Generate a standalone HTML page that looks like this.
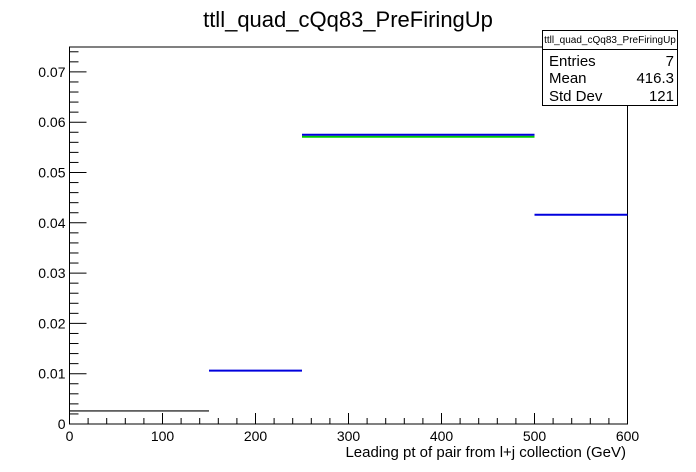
<!DOCTYPE html>
<html><head><meta charset="utf-8"><style>
body{margin:0;background:#fff}
svg{display:block;font-family:"Liberation Sans",sans-serif}
</style></head><body>
<svg id="c" width="696" height="472" viewBox="0 0 696 472">
<rect width="696" height="472" fill="#fff"/>
<text x="348" y="27" font-size="22" text-anchor="middle">ttll_quad_cQq83_PreFiringUp</text>
<g id="axes"></g>
<g id="series"></g>
<text x="626" y="457" font-size="15" text-anchor="end">Leading pt of pair from l+j collection (GeV)</text>
<g>
<rect x="542.5" y="30.5" width="135" height="75" fill="#fff" stroke="#000"/>
<line x1="542.5" y1="49.5" x2="677.5" y2="49.5" stroke="#000"/>
<text x="610" y="43" font-size="10" text-anchor="middle">ttll_quad_cQq83_PreFiringUp</text>
<text x="549" y="66" font-size="15">Entries</text>
<text x="674" y="66" font-size="15" text-anchor="end">7</text>
<text x="549" y="83" font-size="15">Mean</text>
<text x="674" y="83" font-size="15" text-anchor="end">416.3</text>
<text x="549" y="101" font-size="15">Std Dev</text>
<text x="674" y="101" font-size="15" text-anchor="end">121</text>
</g>
</svg>
<script>
const binEdges=[0,150,250,500,600];
const nominal=[0.0026,0.0106,0.0575,0.0416];
const greenSeries=[null,null,0.0572,null];
const xTicks=[0,100,200,300,400,500,600];
const yTicks=[0,0.01,0.02,0.03,0.04,0.05,0.06,0.07];
const yTickLabels=["0","0.01","0.02","0.03","0.04","0.05","0.06","0.07"];
const L=69.5,R=627.5,T=47,B=424;
const xs=v=>L+(v-0)/(600-0)*(R-L);
function ysc(v){return B-v*5030;}
const NS="http://www.w3.org/2000/svg";
function mk(tag,attrs,parent){const e=document.createElementNS(NS,tag);for(const k in attrs)e.setAttribute(k,attrs[k]);parent.appendChild(e);return e;}
const ax=document.getElementById('axes');
const frame=mk('rect',{x:L,y:T,width:R-L,height:B-T,fill:'none',stroke:'#000'},ax);


for(let v=0;v<=600;v+=20){
  const major=v%100===0;
  const t=mk('line',{x1:xs(v),x2:xs(v),y1:B,y2:B-(major?11:6),stroke:'#000'},ax);
  
  
}
xTicks.forEach(v=>{
  const t=mk('text',{x:xs(v),y:B+17,'font-size':14,'text-anchor':'middle'},ax);
  t.textContent=String(v);
  
  
});
for(let i=0;i<=37;i++){
  const v=i*0.002;const major=i%5===0;
  const y=ysc(v);if(y<T)break;
  const t=mk('line',{x1:L,x2:L+(major?17:9),y1:y,y2:y,stroke:'#000'},ax);
  
  
}
yTicks.forEach((v,i)=>{
  const t=mk('text',{x:L-4,y:ysc(v)+5,'font-size':14,'text-anchor':'end'},ax);
  t.textContent=yTickLabels[i];
  
  
});
const sg=document.getElementById('series');
greenSeries.forEach((v,i)=>{
  if(v==null)return;
  const l=mk('line',{x1:xs(binEdges[i]),x2:xs(binEdges[i+1]),y1:ysc(v)+0.5,y2:ysc(v)+0.5,stroke:'#00cc00','stroke-width':2},sg);
  
  
});
nominal.forEach((v,i)=>{
  const col=i===0?'#000':'#0000dd';
  const l=mk('line',{x1:xs(binEdges[i]),x2:xs(binEdges[i+1]),y1:ysc(v),y2:ysc(v),stroke:col,'stroke-width':i===0?1.2:2},sg);
  
  
});
</script>
</body></html>
